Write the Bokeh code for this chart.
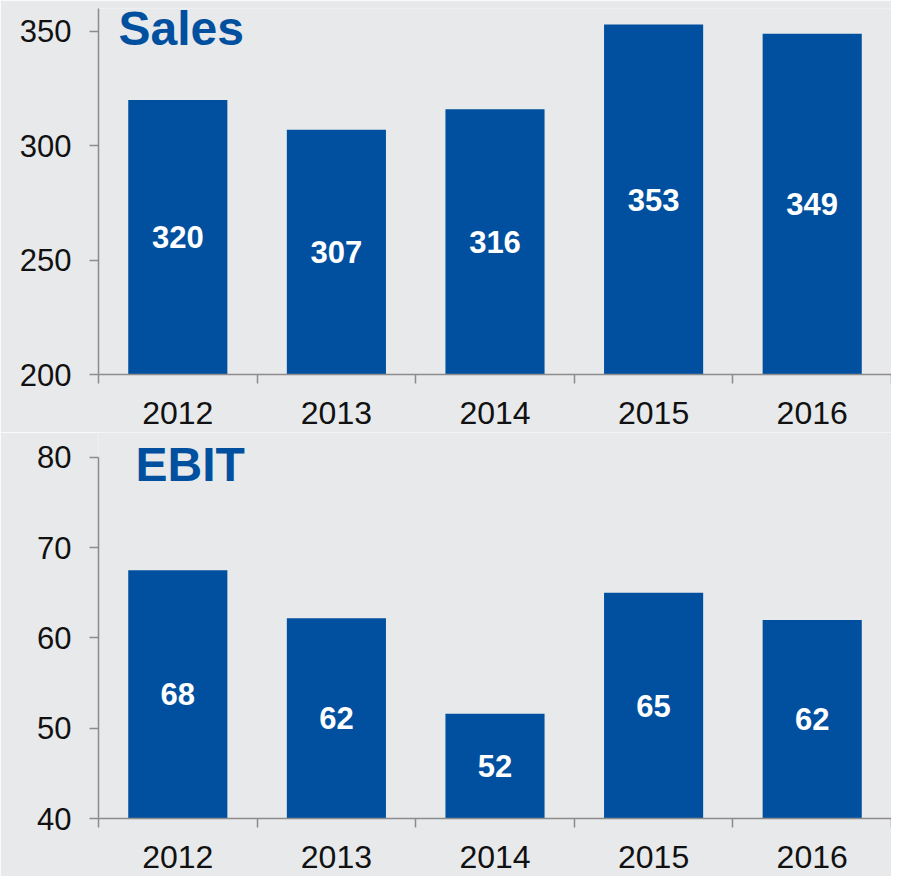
from bokeh.plotting import figure
from bokeh.layouts import column
from bokeh.models import ColumnDataSource, FixedTicker, Range1d, Label
from bokeh.embed import file_html
from bokeh.resources import INLINE
from bokeh.core.properties import value

# ---- data ----
years = ["2012", "2013", "2014", "2015", "2016"]
sales = [320, 307, 316, 353, 349]
sales_labels = ["320", "307", "316", "353", "349"]
ebit = [67.5, 62.2, 51.6, 65.0, 62.0]
ebit_labels = ["68", "62", "52", "65", "62"]
sales_ticks = [200, 250, 300, 350]
ebit_ticks = [40, 50, 60, 70, 80]

BG = "#E8E9EB"
BLUE = "#00509F"
AXIS = "#8C8C8C"
FONT = "Liberation Sans"


def make(title, vals, labels, ymin, ymax, yaxis_top, yticks, height, top, bottom, tx, ty):
    n = len(years)
    xs = [i + 0.5 for i in range(n)]
    mids = [(ymin + v) / 2 for v in vals]
    src = ColumnDataSource(dict(x=xs, top=vals, mid=mids, label=labels))
    p = figure(width=891, height=height, x_range=Range1d(0, n), y_range=Range1d(ymin, ymax),
               output_backend="svg", toolbar_location=None,
               min_border_left=98, min_border_right=0, min_border_top=top, min_border_bottom=bottom)
    p.background_fill_color = BG
    p.border_fill_color = BG
    p.outline_line_color = None
    p.grid.visible = False

    p.vbar(x="x", top="top", bottom=ymin, width=0.625, source=src,
           fill_color=BLUE, line_color=None)
    p.text(x="x", y="mid", text="label", source=src, text_color="white",
           text_font=value(FONT), text_font_style="bold", text_font_size="31px",
           text_align="center", text_baseline="middle")

    xa = p.xaxis[0]
    xa.ticker = FixedTicker(ticks=xs, minor_ticks=list(range(n + 1)))
    xa.major_label_overrides = {x: y for x, y in zip(xs, years)}
    xa.major_tick_out = 0
    xa.major_tick_in = 0
    xa.minor_tick_out = 9
    xa.minor_tick_in = 0
    xa.minor_tick_line_color = AXIS
    xa.minor_tick_line_width = 1.5
    xa.axis_line_color = AXIS
    xa.axis_line_width = 1.5
    xa.major_label_text_font = FONT
    xa.major_label_text_font_size = "32px"
    xa.major_label_text_color = "#111111"
    xa.major_label_standoff = 18

    ya = p.yaxis[0]
    ya.ticker = FixedTicker(ticks=yticks)
    ya.bounds = (ymin, yaxis_top)
    ya.major_tick_out = 9
    ya.major_tick_in = 0
    ya.minor_tick_line_color = None
    ya.major_tick_line_color = AXIS
    ya.major_tick_line_width = 1.5
    ya.axis_line_color = AXIS
    ya.axis_line_width = 1.5
    ya.major_label_text_font = FONT
    ya.major_label_text_font_size = "31px"
    ya.major_label_text_color = "#111111"
    ya.major_label_standoff = 18

    p.add_layout(Label(x=tx, y=ty, text=title, text_font=FONT, text_font_style="bold",
                       text_font_size="48px", text_color=BLUE, text_baseline="alphabetic"))
    return p


p1 = make("Sales", sales, sales_labels, 200, 360, 360, sales_ticks, 432, 8, 58, 0.126, 351.4)
p2 = make("EBIT", ebit, ebit_labels, 40, 82.77, 80, ebit_ticks, 444, 0, 58, 0.233, 79.26)

layout = column(p1, p2, spacing=0)
open("out.html", "w").write(file_html(layout, INLINE))
